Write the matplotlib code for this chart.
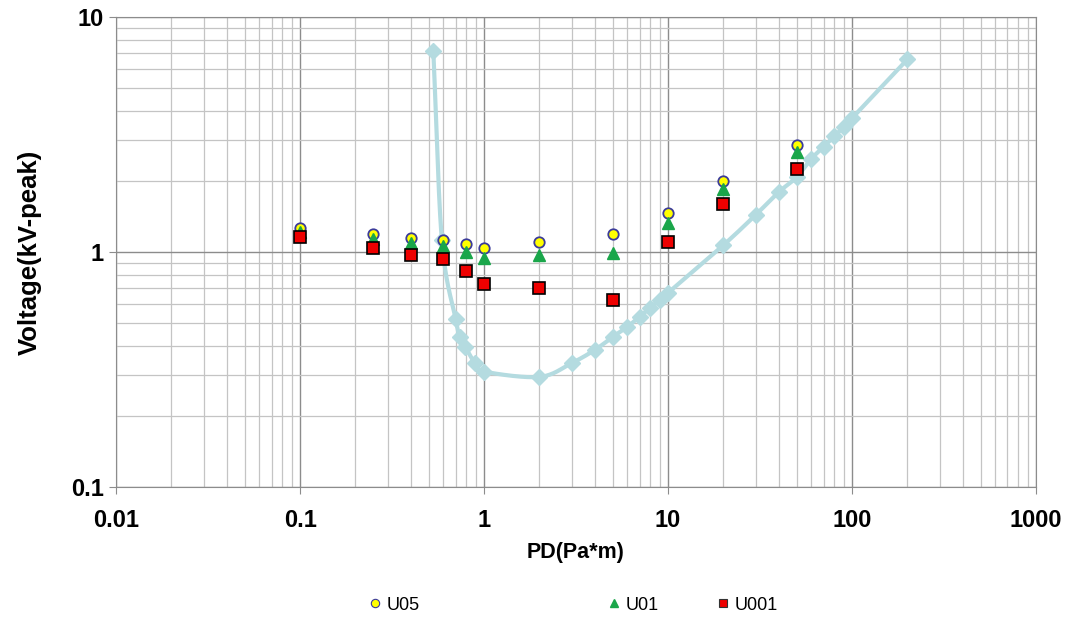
import numpy as np
import matplotlib
matplotlib.use("Agg")
import matplotlib.pyplot as plt
from matplotlib.lines import Line2D

plt.rcParams['font.family'] = ['Liberation Sans', 'DejaVu Sans']

# Measured breakdown voltages
pd_meas = [0.1, 0.25, 0.4, 0.6, 0.8, 1, 2, 5, 10, 20, 50]
u05 = [1.27, 1.19, 1.15, 1.13, 1.08, 1.04, 1.10, 1.19, 1.46, 2.00, 2.85]
u01 = [1.22, 1.14, 1.09, 1.06, 1.00, 0.94, 0.97, 0.99, 1.33, 1.85, 2.66]
u001 = [1.16, 1.04, 0.97, 0.935, 0.83, 0.73, 0.70, 0.625, 1.10, 1.60, 2.25]

# Paschen curve
pd_curve = [0.53, 0.59, 0.70, 0.74, 0.79, 0.89, 1.0, 2.0, 3.0, 4.0, 5.0, 6.0, 7.0, 8.0, 9.0,
            10, 20, 30, 40, 50, 60, 70, 80, 90, 100, 200]
v_curve = [7.15, 1.12, 0.52, 0.435, 0.395, 0.337, 0.31, 0.294, 0.337, 0.383, 0.435, 0.48,
           0.53, 0.58, 0.625, 0.67, 1.07, 1.44, 1.80, 2.08, 2.49, 2.80, 3.11, 3.40, 3.71, 6.6]

legend_labels = ["U05", "U01", "U001"]


def smooth_loglog(x, y, n=30):
    """Catmull-Rom spline through points in log-log space."""
    lx, ly = np.log10(x), np.log10(y)
    P = np.column_stack([lx, ly])
    P = np.vstack([2 * P[0] - P[1], P, 2 * P[-1] - P[-2]])
    out = []
    t = np.linspace(0, 1, n, endpoint=False)
    for i in range(1, len(P) - 2):
        p0, p1, p2, p3 = P[i - 1], P[i], P[i + 1], P[i + 2]
        seg = 0.5 * ((2 * p1)[None, :] + (-p0 + p2)[None, :] * t[:, None]
                     + (2 * p0 - 5 * p1 + 4 * p2 - p3)[None, :] * t[:, None] ** 2
                     + (-p0 + 3 * p1 - 3 * p2 + p3)[None, :] * t[:, None] ** 3)
        out.append(seg)
    out.append(P[-2][None, :])
    out = np.vstack(out)
    return 10 ** out[:, 0], 10 ** out[:, 1]


fig = plt.figure(figsize=(10.75, 6.18), dpi=100)
ax = fig.add_axes([0.108, 0.212, 0.8557, 0.7605])
ax.set_xscale('log')
ax.set_yscale('log')
ax.set_xlim(0.01, 1000)
ax.set_ylim(0.1, 10)

ax.grid(which='major', color='#8c8c8c', linewidth=1.0)
ax.grid(which='minor', color='#c4c4c4', linewidth=0.9)
ax.set_axisbelow(True)
for s in ax.spines.values():
    s.set_color('#8c8c8c')

curve_color = '#b4dbe0'
sx, sy = smooth_loglog(pd_curve, v_curve)
ax.plot(sx, sy, color=curve_color, linewidth=3, zorder=2)
ax.plot(pd_curve, v_curve, linestyle='none', marker='D', markersize=8.5,
        color=curve_color, zorder=2)

ax.plot(pd_meas, u05, linestyle='none', marker='o', markersize=7.5,
        markerfacecolor='#ffff00', markeredgecolor='#3b3b9a', markeredgewidth=1.3, zorder=3)
ax.plot(pd_meas, u01, linestyle='none', marker='^', markersize=8,
        markerfacecolor='#1aa64a', markeredgecolor='#1aa64a', zorder=4)
ax.plot(pd_meas, u001, linestyle='none', marker='s', markersize=8,
        markerfacecolor='#ee0000', markeredgecolor='#000000', markeredgewidth=1.2, zorder=5)

ax.set_xticks([0.01, 0.1, 1, 10, 100, 1000])
ax.set_xticklabels(['0.01', '0.1', '1', '10', '100', '1000'])
ax.set_yticks([0.1, 1, 10])
ax.set_yticklabels(['0.1', '1', '10'])
ax.tick_params(which='major', length=5, color='#8c8c8c', labelsize=17)
ax.tick_params(axis='x', which='major', pad=11)
ax.tick_params(axis='y', which='major', pad=4)
ax.tick_params(which='minor', length=0)
for lab in ax.get_xticklabels() + ax.get_yticklabels():
    lab.set_fontweight('bold')

ax.set_xlabel('PD(Pa*m)', fontsize=15.5, fontweight='bold')
ax.set_ylabel('Voltage(kV-peak)', fontsize=18.5, fontweight='bold')
ax.xaxis.set_label_coords(0.5, -0.117)
ax.yaxis.set_label_coords(-0.081, 0.5)

handles = [
    Line2D([], [], linestyle='none', marker='o', markersize=6,
           markerfacecolor='#ffff00', markeredgecolor='#3b3b9a', markeredgewidth=0.8),
    Line2D([], [], linestyle='none', marker='^', markersize=6,
           markerfacecolor='#1aa64a', markeredgecolor='#1aa64a'),
    Line2D([], [], linestyle='none', marker='s', markersize=6,
           markerfacecolor='#ee0000', markeredgecolor='#333333', markeredgewidth=0.8),
]
xpos = [0.342, 0.564, 0.666]
for h, lab, xp in zip(handles, legend_labels, xpos):
    fig.legend([h], [lab], loc='center left', bbox_to_anchor=(xp, 0.021),
               frameon=False, handlelength=0.8, handletextpad=0.25,
               fontsize=13, borderpad=0, borderaxespad=0)

fig.savefig('out.png', dpi=100)
